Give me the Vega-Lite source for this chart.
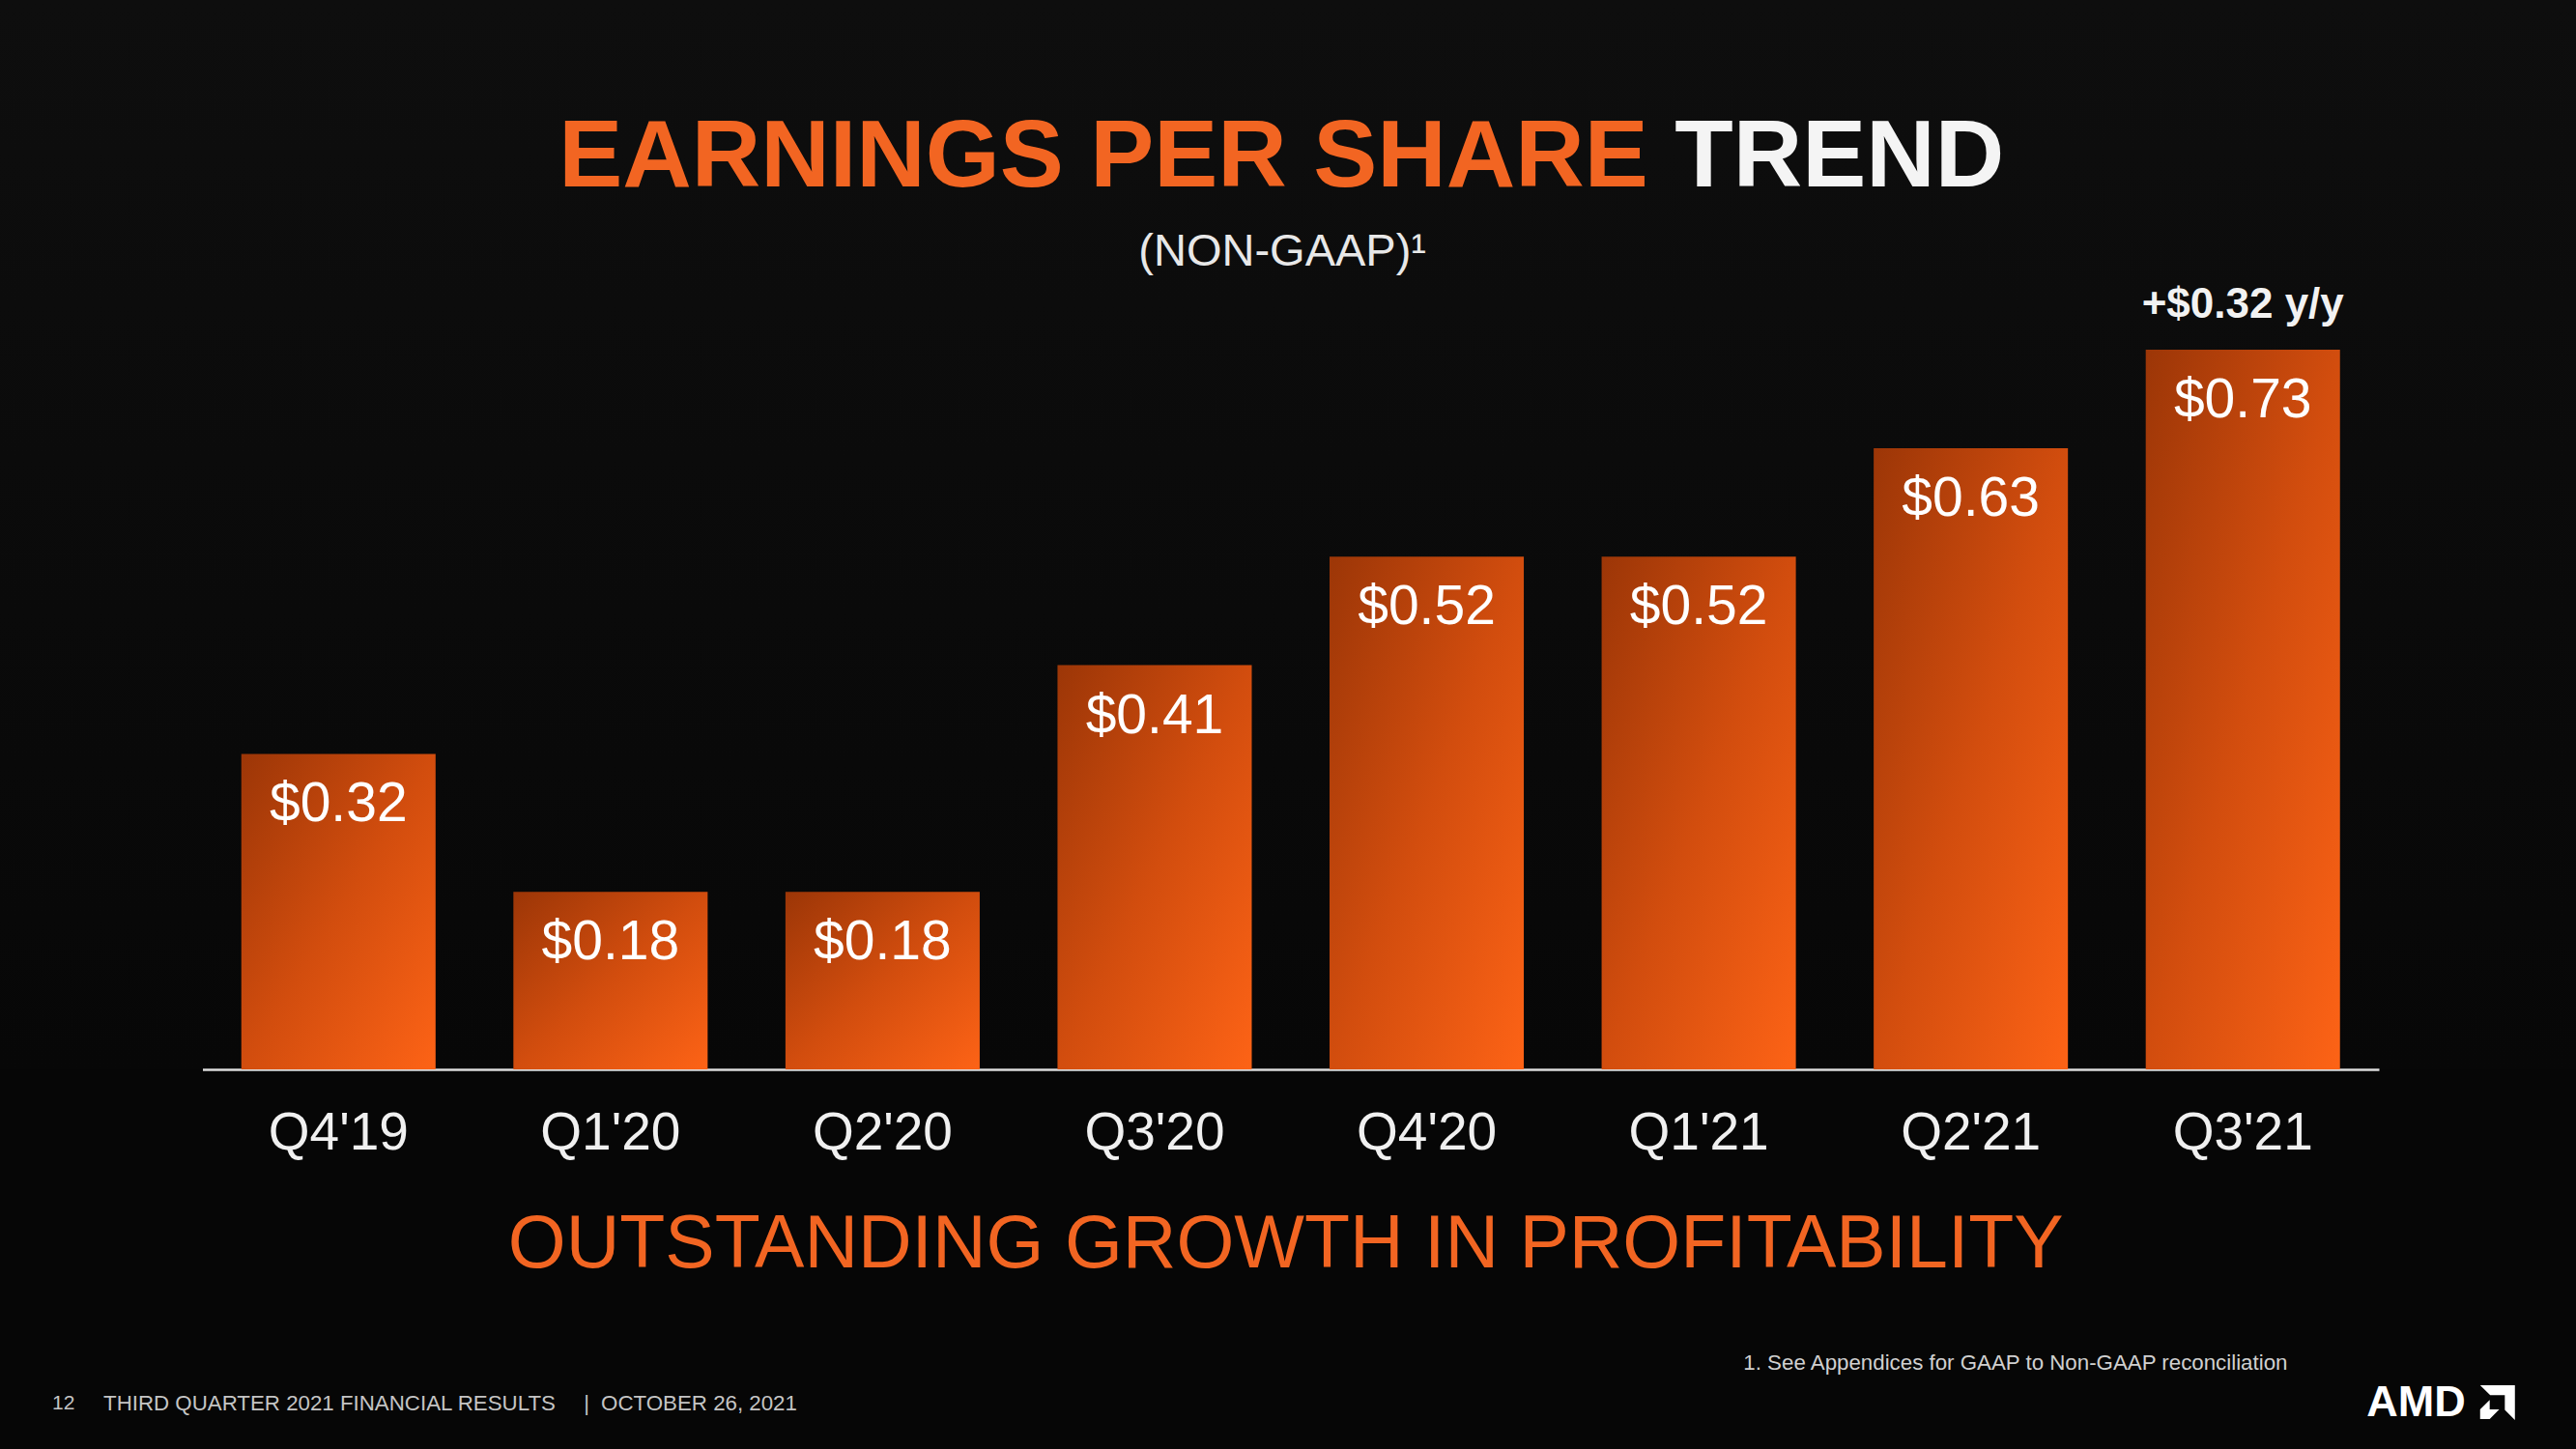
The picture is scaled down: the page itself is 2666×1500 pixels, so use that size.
{
  "$schema": "https://vega.github.io/schema/vega-lite/v6.json",
  "width": 2666,
  "height": 1107,
  "autosize": {"type": "none"},
  "padding": {"left": 0, "top": 0, "right": 0, "bottom": 393},
  "background": "#060606",
  "config": {
    "view": {"stroke": null, "fill": {"gradient": "linear", "x1": 0, "y1": 0, "x2": 0, "y2": 1, "stops": [{"offset": 0, "color": "#0e0e0e"}, {"offset": 1, "color": "#070707"}]}},
    "text": {"font": "Liberation Sans, Arial, sans-serif"}
  },
  "data": {
    "values": [
      {"q": "Q4'19", "eps": 0.32},
      {"q": "Q1'20", "eps": 0.18},
      {"q": "Q2'20", "eps": 0.18},
      {"q": "Q3'20", "eps": 0.41},
      {"q": "Q4'20", "eps": 0.52},
      {"q": "Q1'21", "eps": 0.52},
      {"q": "Q2'21", "eps": 0.63},
      {"q": "Q3'21", "eps": 0.73, "note": "+$0.32 y/y"}
    ]
  },
  "encoding": {
    "x": {
      "field": "q", "type": "nominal",
      "scale": {"domain": ["Q4'19", "Q1'20", "Q2'20", "Q3'20", "Q4'20", "Q1'21", "Q2'21", "Q3'21"], "range": [209.5, 2462], "paddingInner": 0.286, "paddingOuter": 0.143},
      "axis": {"title": null, "labels": false, "ticks": false, "domainColor": "#dcdcdc", "domainWidth": 2.5}
    },
    "y": {
      "field": "eps", "type": "quantitative",
      "scale": {"domain": [0, 1.0848], "nice": false, "zero": true},
      "axis": null
    }
  },
  "layer": [
    {
      "mark": {
        "type": "bar",
        "color": {"gradient": "linear", "x1": 0, "y1": 0, "x2": 1, "y2": 1, "stops": [{"offset": 0, "color": "#9c3607"}, {"offset": 0.5, "color": "#d24d0e"}, {"offset": 1, "color": "#fd6316"}]}
      }
    },
    {
      "mark": {"type": "text", "baseline": "middle", "align": "center", "dy": 53, "fontSize": 57, "color": "#ffffff"},
      "encoding": {"text": {"field": "eps", "type": "quantitative", "format": "$.2f"}}
    },
    {
      "mark": {"type": "text", "baseline": "middle", "align": "center", "fontSize": 55, "color": "#f0f0f0"},
      "encoding": {"y": {"datum": -0.0647}, "text": {"field": "q", "type": "nominal"}}
    },
    {
      "transform": [{"filter": "datum.note"}],
      "mark": {"type": "text", "baseline": "middle", "align": "center", "dy": -46, "fontSize": 44, "fontWeight": "bold", "color": "#f2f2f2"},
      "encoding": {"text": {"field": "note", "type": "nominal"}}
    },
    {
      "transform": [{"filter": {"field": "q", "equal": "Q1'21"}}],
      "mark": {"type": "text", "baseline": "middle", "align": "right", "fontSize": 99, "fontWeight": "bold", "color": "#f26522"},
      "encoding": {"x": {"field": "q", "type": "nominal", "bandPosition": 0.24}, "y": {"datum": 0.925}, "text": {"value": "EARNINGS PER SHARE"}}
    },
    {
      "transform": [{"filter": {"field": "q", "equal": "Q1'21"}}],
      "mark": {"type": "text", "baseline": "middle", "align": "left", "fontSize": 99, "fontWeight": "bold", "color": "#f4f4f4"},
      "encoding": {"x": {"field": "q", "type": "nominal", "bandPosition": 0.377}, "y": {"datum": 0.925}, "text": {"value": "TREND"}}
    },
    {
      "transform": [{"filter": {"field": "q", "equal": "Q4'20"}}],
      "mark": {"type": "text", "baseline": "middle", "align": "center", "fontSize": 47, "color": "#e8e8e8"},
      "encoding": {"x": {"field": "q", "type": "nominal", "bandPosition": -0.243}, "y": {"datum": 0.829}, "text": {"value": "(NON-GAAP)¹"}}
    },
    {
      "transform": [{"filter": {"field": "q", "equal": "Q4'20"}}],
      "mark": {"type": "text", "baseline": "middle", "align": "center", "fontSize": 77, "color": "#f26522"},
      "encoding": {"x": {"field": "q", "type": "nominal", "bandPosition": -0.225}, "y": {"datum": -0.178}, "text": {"value": "OUTSTANDING GROWTH IN PROFITABILITY"}}
    },
    {
      "transform": [{"filter": {"field": "q", "equal": "Q1'21"}}],
      "mark": {"type": "text", "baseline": "middle", "align": "left", "fontSize": 22.3, "color": "#d0d0d0"},
      "encoding": {"x": {"field": "q", "type": "nominal", "bandPosition": 0.73}, "y": {"datum": -0.298}, "text": {"value": "1. See Appendices for GAAP to Non-GAAP reconciliation"}}
    },
    {
      "transform": [{"filter": {"field": "q", "equal": "Q4'19"}}],
      "mark": {"type": "text", "baseline": "middle", "align": "left", "fontSize": 21, "color": "#c4c4c4"},
      "encoding": {"x": {"field": "q", "type": "nominal", "bandPosition": -0.974}, "y": {"datum": -0.339}, "text": {"value": "12"}}
    },
    {
      "transform": [{"filter": {"field": "q", "equal": "Q4'19"}}],
      "mark": {"type": "text", "baseline": "middle", "align": "left", "fontSize": 22.3, "color": "#c4c4c4"},
      "encoding": {"x": {"field": "q", "type": "nominal", "bandPosition": -0.71}, "y": {"datum": -0.339}, "text": {"value": "THIRD QUARTER 2021 FINANCIAL RESULTS"}}
    },
    {
      "transform": [{"filter": {"field": "q", "equal": "Q4'19"}}],
      "mark": {"type": "text", "baseline": "middle", "align": "center", "fontSize": 22, "color": "#c4c4c4"},
      "encoding": {"x": {"field": "q", "type": "nominal", "bandPosition": 1.777}, "y": {"datum": -0.339}, "text": {"value": "|"}}
    },
    {
      "transform": [{"filter": {"field": "q", "equal": "Q4'19"}}],
      "mark": {"type": "text", "baseline": "middle", "align": "left", "fontSize": 22.3, "color": "#c4c4c4"},
      "encoding": {"x": {"field": "q", "type": "nominal", "bandPosition": 1.852}, "y": {"datum": -0.339}, "text": {"value": "OCTOBER 26, 2021"}}
    },
    {
      "transform": [{"filter": {"field": "q", "equal": "Q3'21"}}],
      "mark": {"type": "text", "baseline": "middle", "align": "center", "fontSize": 45, "fontWeight": "bold", "color": "#ffffff"},
      "encoding": {"x": {"field": "q", "type": "nominal", "bandPosition": 1.392}, "y": {"datum": -0.338}, "text": {"value": "AMD"}}
    },
    {
      "transform": [{"filter": {"field": "q", "equal": "Q3'21"}}],
      "mark": {"type": "point", "filled": true, "opacity": 1, "size": 1296, "color": "#ffffff", "shape": "M-1,-1H1V1L0.42,0.42V-0.42H-0.42Z M-0.45,-0.15L-1,0.4V0.95H-0.45L0.1,0.4H-0.45Z"},
      "encoding": {"x": {"field": "q", "type": "nominal", "bandPosition": 1.811}, "y": {"datum": -0.338}}
    }
  ]
}
